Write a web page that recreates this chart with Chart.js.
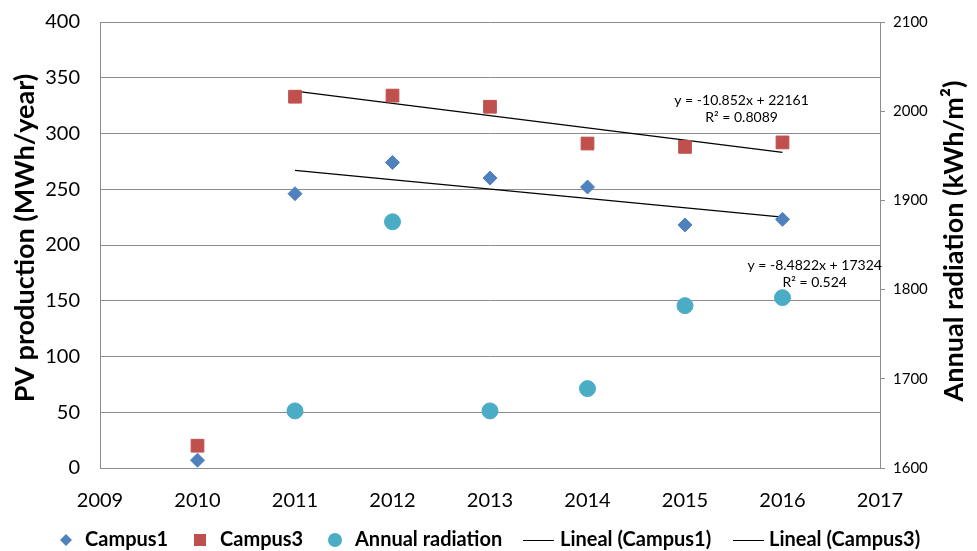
<!DOCTYPE html>
<html><head><meta charset="utf-8">
<script src="https://cdn.jsdelivr.net/npm/chart.js@4.4.0/dist/chart.umd.min.js"></script>
<style>html,body{margin:0;padding:0;background:#fff;}</style>
</head><body>
<canvas id="c" width="977" height="551"></canvas>
<script>
// ---- data ----
const years = [2010, 2011, 2012, 2013, 2014, 2015, 2016];
const campus1 = [7, 246, 274, 260, 252, 218, 223];
const campus3 = [20, 333, 334, 324, 291, 288, 292];
const radiationYears = [2011, 2012, 2013, 2014, 2015, 2016];
const radiation = [1664, 1876, 1664, 1689, 1782, 1791];
const trendYears = [2011, 2016];
const trendCampus1 = [267, 225];
const trendCampus3 = [338, 283];
const seriesLabels = ['Campus1', 'Campus3', 'Annual radiation', 'Lineal (Campus1)', 'Lineal (Campus3)'];
const equationCampus3 = ['y = -10.852x + 22161', 'R² = 0.8089'];
const equationCampus1 = ['y = -8.4822x + 17324', 'R² = 0.524'];
const xRange = [2009, 2017];
const leftRange = [0, 400];
const rightRange = [1600, 2100];
const leftTitle = 'PV production (MWh/year)';
const rightTitle = 'Annual radiation (kWh/m²)';

// ---- styling ----
const FONT = 'Lato';
const GRID = '#8c8c8c';
const C1 = '#4F81BD', C3 = '#C0504D', CR = '#4BACC6';

const pts = (xs, ys) => xs.map((x, i) => ({x: x, y: ys[i]}));

const extras = {
  id: 'extras',
  afterDraw(chart) {
    const ctx = chart.ctx;
    const xs = chart.scales.x, ys = chart.scales.y;
    ctx.save();
    // trendline equations
    ctx.fillStyle = '#000';
    ctx.font = '14px ' + FONT;
    ctx.textAlign = 'center';
    ctx.textBaseline = 'middle';
    const eqs = [
      {lines: equationCampus3, x: 2015.58, y: [330, 314]},
      {lines: equationCampus1, x: 2016.33, y: [182, 166]}
    ];
    eqs.forEach(e => {
      e.lines.forEach((t, i) => ctx.fillText(t, xs.getPixelForValue(e.x), ys.getPixelForValue(e.y[i])));
    });
    ctx.restore();

    // axis titles
    ctx.save();
    ctx.fillStyle = '#000';
    ctx.font = 'bold 27px ' + FONT;
    ctx.textAlign = 'center';
    ctx.textBaseline = 'middle';
    ctx.translate(25, 238);
    ctx.rotate(-Math.PI / 2);
    ctx.fillText(leftTitle, 0, 0);
    ctx.restore();
    ctx.save();
    ctx.fillStyle = '#000';
    ctx.font = 'bold 27px ' + FONT;
    ctx.textAlign = 'center';
    ctx.textBaseline = 'middle';
    ctx.translate(954, 241);
    ctx.rotate(-Math.PI / 2);
    ctx.fillText(rightTitle, 0, 0);
    ctx.restore();

    // legend
    ctx.save();
    ctx.font = 'bold 20px ' + FONT;
    ctx.textAlign = 'left';
    ctx.textBaseline = 'middle';
    ctx.fillStyle = '#000';
    const ly = 540;
    const items = [
      {kind: 'diamond', color: C1, mx: 66, tx: 85},
      {kind: 'square', color: C3, mx: 200, tx: 220},
      {kind: 'circle', color: CR, mx: 335, tx: 355},
      {kind: 'line', color: '#000', mx: 523, tx: 560},
      {kind: 'line', color: '#000', mx: 733, tx: 769}
    ];
    items.forEach((it, i) => {
      ctx.fillStyle = it.color;
      ctx.strokeStyle = it.color;
      ctx.beginPath();
      if (it.kind === 'diamond') {
        ctx.moveTo(it.mx, ly - 6); ctx.lineTo(it.mx + 6, ly); ctx.lineTo(it.mx, ly + 6); ctx.lineTo(it.mx - 6, ly); ctx.closePath(); ctx.fill();
      } else if (it.kind === 'square') {
        ctx.rect(it.mx - 6, ly - 6, 12, 12); ctx.fill();
      } else if (it.kind === 'circle') {
        ctx.arc(it.mx, ly, 7, 0, Math.PI * 2); ctx.fill();
      } else {
        ctx.lineWidth = 1;
        ctx.moveTo(it.mx, ly + 0.5); ctx.lineTo(it.mx + 31, ly + 0.5); ctx.stroke();
      }
      ctx.fillStyle = '#000';
      ctx.fillText(seriesLabels[i], it.tx, ly);
    });
    ctx.restore();
  }
};

const fitV = w => s => { s.width = w; s.paddingTop = 0; s.paddingBottom = 0; };

new Chart(document.getElementById('c'), {
  type: 'scatter',
  data: {
    datasets: [
      {label: seriesLabels[0], data: pts(years, campus1), yAxisID: 'y', pointStyle: 'rectRot', pointRadius: 7,
       backgroundColor: C1, borderColor: C1, borderWidth: 1},
      {label: seriesLabels[1], data: pts(years, campus3), yAxisID: 'y', pointStyle: 'rect', pointRadius: 9,
       backgroundColor: C3, borderColor: C3, borderWidth: 1},
      {label: seriesLabels[2], data: pts(radiationYears, radiation), yAxisID: 'y2', pointStyle: 'circle', pointRadius: 8,
       backgroundColor: CR, borderColor: CR, borderWidth: 1},
      {label: seriesLabels[3], data: pts(trendYears, trendCampus1), yAxisID: 'y', showLine: true, pointRadius: 0,
       borderColor: '#000', borderWidth: 1.3, backgroundColor: '#000'},
      {label: seriesLabels[4], data: pts(trendYears, trendCampus3), yAxisID: 'y', showLine: true, pointRadius: 0,
       borderColor: '#000', borderWidth: 1.3, backgroundColor: '#000'}
    ]
  },
  options: {
    responsive: false,
    animation: false,
    devicePixelRatio: 1,
    layout: {padding: {top: 22, left: 0, right: 0, bottom: 0}},
    plugins: {legend: {display: false}, tooltip: {enabled: false}},
    scales: {
      x: {
        type: 'linear', min: xRange[0], max: xRange[1],
        ticks: {stepSize: 1, color: '#000', font: {family: FONT, size: 20}, padding: 21, callback: v => String(v)},
        grid: {display: false, drawTicks: false},
        border: {display: true, color: GRID, width: 1},
        afterFit: s => { s.height = 83; }
      },
      y: {
        position: 'left', min: leftRange[0], max: leftRange[1],
        ticks: {stepSize: 50, color: '#000', font: {family: FONT, size: 20}, padding: 20},
        grid: {color: GRID, lineWidth: 1, drawTicks: false},
        border: {display: true, color: GRID, width: 1},
        afterFit: fitV(100)
      },
      y2: {
        position: 'right', min: rightRange[0], max: rightRange[1],
        ticks: {stepSize: 100, color: '#000', font: {family: FONT, size: 15}, padding: 8, callback: v => String(v)},
        grid: {drawOnChartArea: false, drawTicks: true, tickLength: 5, color: GRID},
        border: {display: true, color: GRID, width: 1},
        afterFit: fitV(97)
      }
    }
  },
  plugins: [extras]
});
</script>
</body></html>
